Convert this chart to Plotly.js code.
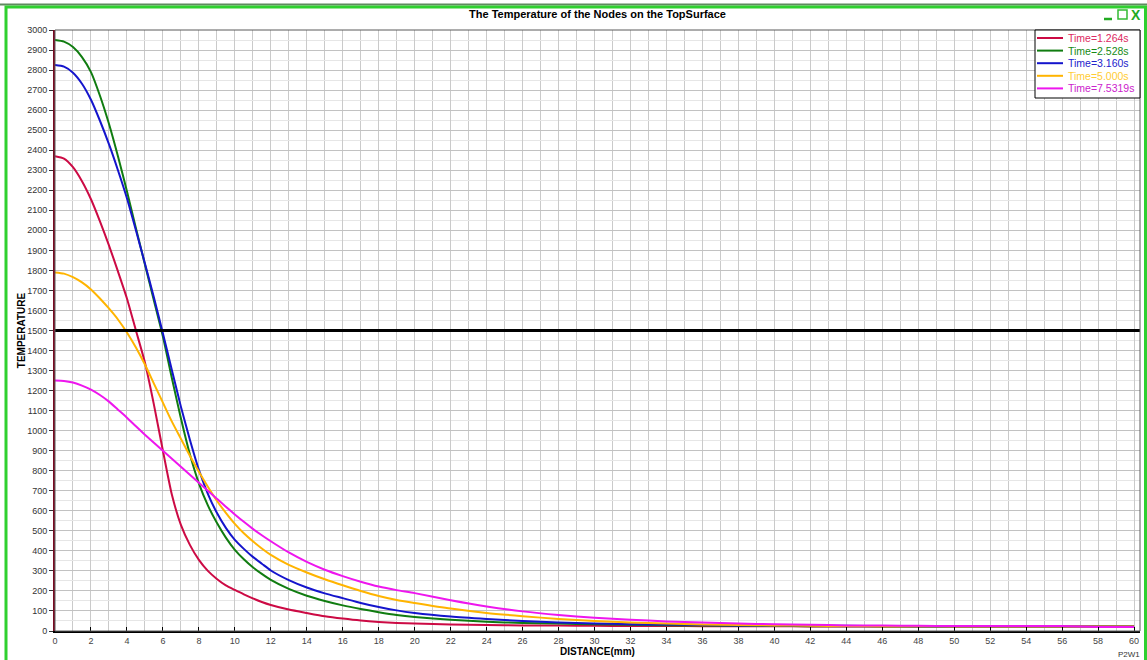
<!DOCTYPE html>
<html><head><meta charset="utf-8">
<script src="https://cdn.plot.ly/plotly-3.0.1.min.js"></script>
<style>html,body{margin:0;padding:0;background:#fff;overflow:hidden}#chart{width:1147px;height:660px}</style>
</head><body><div id="chart"></div>
<script>
// ---- data ----
const distance = [0,0.5,1,1.5,2,2.5,3,3.5,4,4.5,5,5.5,6,6.5,7,7.5,8,8.5,9,9.5,10,10.5,11,11.5,12,
  13,14,15,16,17,18,19,20,22,24,26,28,30,32,34,36,38,40,42,44,46,48,50,52,54,56,58,60];
const temp_t1264 = [2370,2358,2315,2245,2155,2045,1925,1795,1660,1500,1340,1130,900,680,530,430,355,300,260,228,205,183,163,145,130,
  107,90,74,62,52,45,40,37,33,30,28,27,26,25,25,24,24,24,23,23,23,22,22,22,22,22,22,22];
const temp_t2528 = [2950,2942,2915,2865,2790,2672,2532,2370,2195,2010,1830,1650,1470,1262,1062,882,737,627,540,466,405,358,318,285,255,
  210,176,150,128,110,94,80,70,56,46,40,37,34,31,29,27,26,25,24,24,23,23,22,22,22,22,22,22];
const temp_t3160 = [2825,2817,2787,2732,2652,2547,2430,2300,2160,2000,1835,1665,1485,1302,1120,955,805,685,590,515,455,410,370,336,302,
  254,217,188,164,140,120,103,90,72,60,50,43,38,34,32,30,28,27,27,26,25,24,23,23,22,22,22,22];
const temp_t5000 = [1790,1784,1766,1740,1705,1660,1610,1555,1490,1415,1330,1235,1140,1045,960,875,795,720,650,590,535,488,448,412,380,
  330,292,258,228,200,175,155,140,112,90,74,60,50,42,37,33,30,28,26,25,24,24,23,23,22,22,22,22];
const temp_t7532 = [1250,1248,1240,1225,1205,1178,1145,1105,1065,1022,980,940,900,860,820,780,740,700,660,620,582,545,510,478,448,
  392,345,306,274,246,222,204,189,153,122,98,80,66,56,48,42,37,34,31,28,27,26,25,25,25,25,20,20];
const seriesNames = ['Time=1.264s','Time=2.528s','Time=3.160s','Time=5.000s','Time=7.5319s'];
const seriesValues = [temp_t1264,temp_t2528,temp_t3160,temp_t5000,temp_t7532];
const seriesColors = ['#cc0a44','#107c10','#1414cc','#ffb400','#ee16ee'];
const legendTextColors = ['#dd2a62','#168a16','#2222cc','#ffcc33','#cc22cc'];
const limitTemp = 1500;
const xTickVals = [0,2,4,6,8,10,12,14,16,18,20,22,24,26,28,30,32,34,36,38,40,42,44,46,48,50,52,54,56,58,60];
const yTickVals = [0,100,200,300,400,500,600,700,800,900,1000,1100,1200,1300,1400,1500,1600,1700,1800,1900,2000,2100,2200,2300,2400,2500,2600,2700,2800,2900,3000];

// ---- layout helpers (pixel -> paper) ----
const W = 1147, H = 660, M = {l:55, r:7, t:30, b:29};
const PW = W - M.l - M.r, PH = H - M.t - M.b;
const px = p => (p - M.l) / PW;
const py = p => (H - M.b - p) / PH;
const FONT = 'Arial, "Liberation Sans", sans-serif';

const traces = seriesValues.map((vals, i) => ({
  type: 'scatter', mode: 'lines', x: distance, y: vals, name: seriesNames[i],
  line: {color: seriesColors[i], width: 2, shape: 'spline', smoothing: 0.6}, hoverinfo: 'skip', showlegend: false
}));

const shapes = [
  // limit line
  {type:'line', xref:'paper', yref:'y', x0:0, x1:1, y0:limitTemp, y1:limitTemp, line:{color:'#000', width:3}, layer:'above'},
  // plot border
  {type:'rect', xref:'paper', yref:'paper', x0:0, x1:1, y0:0, y1:1, line:{color:'#5a5a5a', width:1}, layer:'above'},
  // window frame
  {type:'line', xref:'paper', yref:'paper', x0:px(0), x1:px(1147), y0:py(4.5), y1:py(4.5), line:{color:'#5f8a5f', width:2}},
  {type:'rect', xref:'paper', yref:'paper', x0:px(6), x1:px(1145.5), y0:py(7), y1:py(663), line:{color:'#2fd02f', width:3}},
  // window buttons: minimise bar and maximise box
  {type:'line', xref:'paper', yref:'paper', x0:px(1104), x1:px(1112), y0:py(19), y1:py(19), line:{color:'#22aa22', width:2.5}},
  {type:'rect', xref:'paper', yref:'paper', x0:px(1118), x1:px(1127), y0:py(10), y1:py(19), line:{color:'#33bb33', width:1.5}},
  // legend box
  {type:'rect', xref:'paper', yref:'paper', x0:px(1035), x1:px(1140), y0:py(30), y1:py(98), line:{color:'#000', width:1}, fillcolor:'#fff', layer:'above'}
];
const annotations = [
  {xref:'paper', yref:'paper', x:px(1136), y:py(15), xanchor:'center', yanchor:'middle', showarrow:false,
   text:'<b>X</b>', font:{family:FONT, size:14, color:'#22aa22'}},
  {xref:'paper', yref:'paper', x:px(1142), y:py(654), xanchor:'right', yanchor:'middle', showarrow:false,
   text:'P2W1', font:{family:FONT, size:8, color:'#333'}}
];
seriesNames.forEach((nm, i) => {
  const cy = 38 + i * 12.6;
  shapes.push({type:'line', xref:'paper', yref:'paper', x0:px(1037), x1:px(1063), y0:py(cy), y1:py(cy),
    line:{color:seriesColors[i], width:2}, layer:'above'});
  annotations.push({xref:'paper', yref:'paper', x:px(1066), y:py(cy), xanchor:'left', yanchor:'middle', showarrow:false,
    text:nm, font:{family:FONT, size:10.5, color:legendTextColors[i]}});
});

const layout = {
  width: W, height: H, margin: M, paper_bgcolor:'#fff', plot_bgcolor:'#fff', showlegend:false,
  font:{family:FONT, size:9, color:'#222'},
  title:{text:'The Temperature of the Nodes on the TopSurface', font:{family:FONT, size:11, weight:'bold', color:'#000'},
    xref:'paper', x:0.5, xanchor:'center', yref:'container', y:1 - 14/H, yanchor:'middle'},
  xaxis:{range:[0, 60.33], tickvals:xTickVals, ticktext:xTickVals.map(String), ticks:'inside', ticklen:4, tickcolor:'#000',
    showline:true, linecolor:'#000', linewidth:2, zeroline:false, showgrid:true, gridcolor:'#cacaca', gridwidth:1,
    minor:{dtick:1, tick0:0, showgrid:true, gridcolor:'#cacaca', gridwidth:1},
    tickfont:{family:FONT, size:9, color:'#444'},
    title:{text:'DISTANCE(mm)', font:{family:FONT, size:10, weight:'bold', color:'#000'}, standoff:2}, automargin:false},
  yaxis:{range:[0, 3000], tickvals:yTickVals, ticktext:yTickVals.map(String), ticks:'outside', ticklen:4, tickcolor:'#333',
    showline:true, linecolor:'#7a0a22', linewidth:2, zeroline:false, showgrid:true, gridcolor:'#c2c2c2', gridwidth:1,
    minor:{dtick:50, tick0:0, showgrid:true, gridcolor:'#e6e6e6', gridwidth:1},
    tickfont:{family:FONT, size:9, color:'#333'},
    title:{text:'TEMPERATURE', font:{family:FONT, size:10, weight:'bold', color:'#000'}, standoff:0}, automargin:false},
  shapes: shapes, annotations: annotations
};
Plotly.newPlot('chart', traces, layout, {displayModeBar:false, staticPlot:true});
</script></body></html>
